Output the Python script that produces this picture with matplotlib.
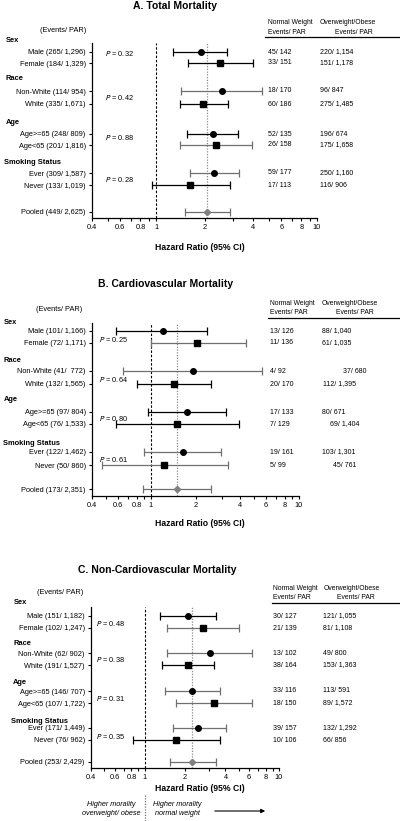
import numpy as np
import matplotlib
matplotlib.use("Agg")
import matplotlib.pyplot as plt
from matplotlib.lines import Line2D

plt.rcParams['font.family'] = ['Liberation Sans', 'DejaVu Sans']

W, H = 400, 821
fig = plt.figure(figsize=(4, 8.21), dpi=100)


def fx(x):
    return x / W


def fy(y):
    return 1 - y / H


# ---------------- DATA ----------------
group_names = ['Sex', 'Race', 'Age', 'Smoking Status']

# Panel A: Total mortality
a_labels = ['Male (265/ 1,296)', 'Female (184/ 1,329)', 'Non-White (114/ 954)', 'White (335/ 1,671)',
            'Age>=65 (248/ 809)', 'Age<65 (201/ 1,816)', 'Ever (309/ 1,587)', 'Never (133/ 1,019)',
            'Pooled (449/ 2,625)']
a_hr = [1.90, 2.50, 2.57, 1.97, 2.25, 2.36, 2.29, 1.63, 2.07]
a_lo = [1.28, 1.58, 1.43, 1.41, 1.56, 1.41, 1.63, 0.94, 1.51]
a_hi = [2.76, 4.00, 4.56, 2.81, 3.23, 3.95, 3.28, 2.88, 2.88]
a_normal = ['45/ 142', '33/ 151', '18/ 170', '60/ 186', '52/ 135', '26/ 158', '59/ 177', '17/ 113']
a_over = ['220/ 1,154', '151/ 1,178', '96/ 847', '275/ 1,485', '196/ 674', '175/ 1,658', '250/ 1,160', '116/ 906']
a_p = ['0.32', '0.42', '0.88', '0.28']

# Panel B: Cardiovascular mortality
b_labels = ['Male (101/ 1,166)', 'Female (72/ 1,171)', 'Non-White (41/  772)', 'White (132/ 1,565)',
            'Age>=65 (97/ 804)', 'Age<65 (76/ 1,533)', 'Ever (122/ 1,462)', 'Never (50/ 860)',
            'Pooled (173/ 2,351)']
b_hr = [1.20, 2.06, 1.91, 1.44, 1.76, 1.51, 1.64, 1.23, 1.51]
b_lo = [0.58, 1.00, 0.65, 0.80, 0.95, 0.58, 0.90, 0.47, 0.89]
b_hi = [2.41, 4.40, 5.60, 2.56, 3.23, 3.96, 2.98, 3.29, 2.56]
b_normal = ['13/ 126', '11/ 136', '4/ 92', '20/ 170', '17/ 133', '7/ 129', '19/ 161', '5/ 99']
b_over = ['88/ 1,040', '61/ 1,035', '37/ 680', '112/ 1,395', '80/ 671', '69/ 1,404', '103/ 1,301', '45/ 761']
b_p = ['0.25', '0.64', '0.80', '0.61']

# Panel C: Non-cardiovascular mortality
c_labels = ['Male (151/ 1,182)', 'Female (102/ 1,247)', 'Non-White (62/ 902)', 'White (191/ 1,527)',
            'Age>=65 (146/ 707)', 'Age<65 (107/ 1,722)', 'Ever (171/ 1,449)', 'Never (76/ 962)',
            'Pooled (253/ 2,429)']
c_hr = [2.10, 2.72, 3.07, 2.10, 2.25, 3.29, 2.50, 1.71, 2.25]
c_lo = [1.30, 1.47, 1.47, 1.35, 1.42, 1.71, 1.63, 0.82, 1.55]
c_hi = [3.40, 5.00, 6.30, 3.29, 3.64, 6.30, 4.04, 3.64, 3.40]
c_normal = ['30/ 127', '21/ 139', '13/ 102', '38/ 164', '33/ 116', '18/ 150', '39/ 157', '10/ 106']
c_over = ['121/ 1,055', '81/ 1,108', '49/ 800', '153/ 1,363', '113/ 591', '89/ 1,572', '132/ 1,292', '66/ 856']
c_p = ['0.48', '0.38', '0.31', '0.35']

titles = ['A. Total Mortality', 'B. Cardiovascular Mortality', 'C. Non-Cardiovascular Mortality']
xticks = [0.4, 0.5, 0.6, 0.7, 0.8, 0.9, 1, 2, 3, 4, 5, 6, 7, 8, 9, 10]
xtick_labels = ['0.4', '', '0.6', '', '0.8', '', '1', '2', '', '4', '', '6', '', '8', '', '10']

# ---------------- LAYOUT (pixels) ----------------
K, G = 'black', '#707070'
panels = [
    dict(data=(a_labels, a_hr, a_lo, a_hi, a_normal, a_over, a_p),
         box=(92, 317, 43, 218),
         rows=[52, 63, 91, 104, 134, 145, 173, 185, 212],
         heads=[41, 79, 123, 162], head_x=[6, 6, 6, 4],
         ev_xy=(63, 31), title_xy=(175, 6),
         p_x=105, p_y=[54, 97, 137, 179],
         nx=268, ox=320, o_off=[0] * 8,
         hdr_y=(23, 32), ow_hdr_x=320, ow_ev_cx=354, ul=(265, 37),
         xl_y=247,
         colors=[K, K, G, K, K, G, G, K, G]),
    dict(data=(b_labels, b_hr, b_lo, b_hi, b_normal, b_over, b_p),
         box=(92, 299, 323, 496),
         rows=[331, 343, 371, 384, 412, 424, 452, 465, 489],
         heads=[322, 360, 399, 443], head_x=[4, 4, 4, 3],
         ev_xy=(59, 309), title_xy=(166, 284),
         p_x=99, p_y=[339, 379, 418, 459],
         nx=270, ox=322, o_off=[0, 0, 21, 1, 0, 8, 0, 11],
         hdr_y=(303, 313), ow_hdr_x=322, ow_ev_cx=355, ul=(268, 318),
         xl_y=523,
         colors=[K, G, G, K, K, K, G, G, G]),
    dict(data=(c_labels, c_hr, c_lo, c_hi, c_normal, c_over, c_p),
         box=(91, 279, 607, 768),
         rows=[616, 628, 653, 665, 691, 703, 728, 740, 762],
         heads=[603, 643, 682, 721], head_x=[14, 13, 13, 11],
         ev_xy=(60, 593), title_xy=(157, 570),
         p_x=96, p_y=[623, 659, 698, 736],
         nx=273, ox=323, o_off=[0] * 8,
         hdr_y=(589, 597), ow_hdr_x=324, ow_ev_cx=356, ul=(272, 603),
         xl_y=788,
         colors=[K, G, G, K, G, G, G, K, G]),
]

FS = 5.3
markers = ['o', 's', 'o', 's', 'o', 's', 'o', 's', 'D']

for pn, t in zip(panels, titles):
    labels, hr, lo, hi, normal, over, pv = pn['data']
    l, r, tp, bt = pn['box']
    ax = fig.add_axes([fx(l), fy(bt), (r - l) / W, (bt - tp) / H])
    ax.set_xscale('log')
    ax.set_xlim(0.4, 10)
    ax.set_ylim(bt, tp)
    for s in ['top', 'right']:
        ax.spines[s].set_visible(False)
    for s in ['left', 'bottom']:
        ax.spines[s].set_linewidth(0.9)
    ax.set_xticks(xticks)
    ax.set_xticklabels(xtick_labels, fontsize=FS)
    ax.xaxis.set_minor_locator(matplotlib.ticker.NullLocator())
    ax.tick_params(axis='x', length=2.5, width=0.8, pad=2)
    ax.set_yticks(pn['rows'])
    ax.set_yticklabels(labels, fontsize=FS)
    ax.tick_params(axis='y', length=2.5, width=0.8, pad=2)

    # reference lines
    ax.axvline(1, color='black', lw=0.8, ls=(0, (2.2, 1.6)), zorder=1)
    ax.axvline(hr[-1], color='#8a8a8a', lw=0.9, ls=(0, (1, 1.2)), zorder=1)

    for i, y in enumerate(pn['rows']):
        c = pn['colors'][i]
        ax.errorbar([hr[i]], [y], xerr=[[hr[i] - lo[i]], [hi[i] - hr[i]]], fmt='none',
                    ecolor=c, elinewidth=0.9, capsize=2.6, capthick=0.9, zorder=2)
        mk = markers[i]
        mc = '#808080' if i == len(hr) - 1 else 'black'
        ms = {'o': 4.0, 's': 3.8, 'D': 3.2}[mk]
        ax.plot([hr[i]], [y], marker=mk, color=mc, ms=ms, zorder=3, linestyle='none')

    # x label
    ax.set_xlabel('Hazard Ratio (95% CI)', fontsize=6.2, fontweight='bold')
    ax.xaxis.set_label_coords(0.5, fy(pn['xl_y']), transform=fig.transFigure)
    ax.xaxis.label.set_va('center')

    # title
    fig.text(fx(pn['title_xy'][0]), fy(pn['title_xy'][1]), t, fontsize=7.5,
             fontweight='bold', ha='center', va='center')
    # group headings
    for g, gy, gx in zip(group_names, pn['heads'], pn['head_x']):
        fig.text(fx(gx), fy(gy), g, fontsize=5.4, fontweight='bold', ha='left', va='center')
    fig.text(fx(pn['ev_xy'][0]), fy(pn['ev_xy'][1]), '(Events/ PAR)', fontsize=FS,
             ha='center', va='center')
    # p values
    for p, py in zip(pv, pn['p_y']):
        fig.text(fx(pn['p_x']), fy(py), r'$\it{P}$' + ' = ' + p, fontsize=FS,
                 ha='left', va='center')
    # right columns
    y1, y2 = pn['hdr_y']
    fig.text(fx(pn['nx']), fy(y1), 'Normal Weight', fontsize=4.9, ha='left', va='center')
    fig.text(fx(pn['nx']), fy(y2), 'Events/ PAR', fontsize=4.9, ha='left', va='center')
    fig.text(fx(pn['ow_hdr_x']), fy(y1), 'Overweight/Obese', fontsize=4.9, ha='left', va='center')
    fig.text(fx(pn['ow_ev_cx']), fy(y2), 'Events/ PAR', fontsize=4.9, ha='center', va='center')
    ux, uy = pn['ul']
    fig.add_artist(Line2D([fx(ux), fx(399)], [fy(uy), fy(uy)], color='black', lw=0.9,
                          transform=fig.transFigure))
    for i in range(len(normal)):
        y = pn['rows'][i]
        fig.text(fx(pn['nx']), fy(y), normal[i], fontsize=5.0, ha='left', va='center')
        fig.text(fx(pn['ox'] + pn['o_off'][i]), fy(y), over[i], fontsize=5.0, ha='left', va='center')

# bottom annotation
fig.text(fx(111), fy(804), 'Higher morality', fontsize=5.2, style='italic', ha='center', va='center')
fig.text(fx(111), fy(813), 'overweight/ obese', fontsize=5.2, style='italic', ha='center', va='center')
fig.text(fx(177), fy(804), 'Higher morality', fontsize=5.2, style='italic', ha='center', va='center')
fig.text(fx(177), fy(813), 'normal weight', fontsize=5.2, style='italic', ha='center', va='center')
fig.add_artist(Line2D([fx(145), fx(145)], [fy(795), fy(821)], color='#777777', lw=0.9,
                      ls=(0, (1, 1.2)), transform=fig.transFigure))
fig.add_artist(matplotlib.patches.FancyArrowPatch((fx(212), fy(811)), (fx(268), fy(811)),
                                                  transform=fig.transFigure, arrowstyle='-|>',
                                                  mutation_scale=6, color='black', lw=0.8))

fig.savefig('out.png', dpi=100)
